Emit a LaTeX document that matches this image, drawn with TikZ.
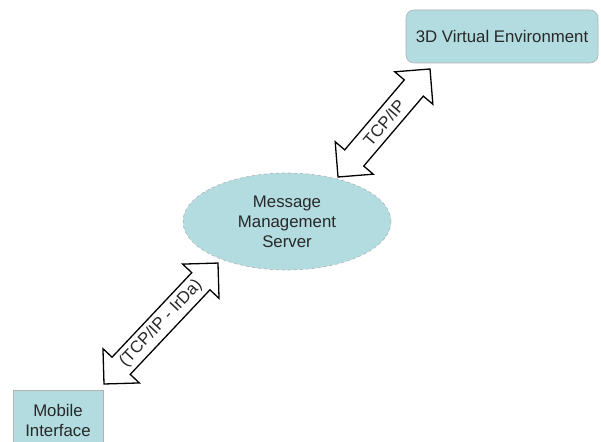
\documentclass[tikz,border=0pt]{standalone}
\usepackage{fontspec}
\setmainfont{Liberation Sans}
\usetikzlibrary{shapes.geometric}
\definecolor{boxfill}{RGB}{178,220,224}
\definecolor{txt}{RGB}{40,40,40}
\begin{document}
\begin{tikzpicture}[x=1pt,y=1pt,
  every node/.style={font=\fontsize{16.8}{20}\selectfont, text=txt},
  entity/.style={fill=boxfill, draw=gray!60, line width=0.6pt, inner sep=0pt, align=center},
  blockarrow/.style={draw=black, fill=white, line width=1.3pt, line join=miter},
  arrowtext/.style={inner sep=0pt}]
\clip (0,0) rectangle (601,441);
\fill[white] (0,0) rectangle (601,441);
\node[entity, rounded corners=8pt, minimum width=192pt, minimum height=53pt] (ve) at (502,404.5) {3D Virtual Environment};
\node[entity, ellipse, dashed, minimum width=208pt, minimum height=97pt] (mms) at (287,219.5) {Message\\Management\\Server};
\node[entity, minimum width=90pt, minimum height=60pt] (mi) at (58,21) {Mobile\\Interface};
\coordinate (u1) at (338,264);
\coordinate (l1) at (104,57);
\begin{scope}[shift={(u1)}, rotate=49.57]
  \draw[blockarrow] (0,0) -- (25,25) -- (25,12.5) -- (116.9,12.5) -- (116.9,25) -- (141.9,0) -- (116.9,-25) -- (116.9,-12.5) -- (25,-12.5) -- (25,-25) -- cycle;
  \node[arrowtext, rotate=49.57] (tcp) at (70.95,0) {TCP/IP};
\end{scope}
\begin{scope}[shift={(l1)}, rotate=46.7]
  \draw[blockarrow] (0,0) -- (25,25) -- (25,12.5) -- (141.2,12.5) -- (141.2,25) -- (166.2,0) -- (141.2,-25) -- (141.2,-12.5) -- (25,-12.5) -- (25,-25) -- cycle;
  \node[arrowtext, rotate=46.7] (irda) at (83.1,0) {(TCP/IP - IrDa)};
\end{scope}
\end{tikzpicture}
\end{document}
